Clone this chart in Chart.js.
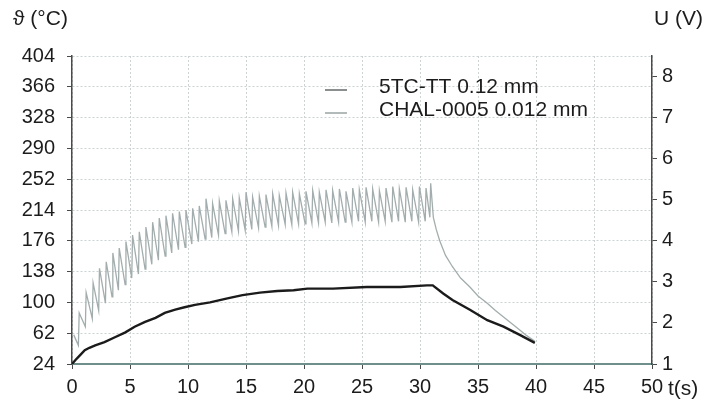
<!DOCTYPE html>
<html>
<head>
<meta charset="utf-8">
<script src="https://cdn.jsdelivr.net/npm/chart.js@4"></script>
<style>
  html, body { margin: 0; padding: 0; background: #ffffff; }
  #wrap { width: 704px; height: 407px; }
</style>
</head>
<body>
<div id="wrap"><canvas id="tempChart" width="704" height="407"></canvas></div>
<script>
// ─── DATA ────────────────────────────────────────────────────

const tempTicks = [24, 62, 100, 138, 176, 214, 252, 290, 328, 366, 404];
const timeTicks = [0, 5, 10, 15, 20, 25, 30, 35, 40, 45, 50];
const voltTicks = [1, 2, 3, 4, 5, 6, 7, 8];

const seriesLabels = ['5TC-TT 0.12 mm', 'CHAL-0005 0.012 mm'];

// 5TC-TT 0.12 mm (dark curve)
const tcTime = [0, 0.3, 0.7, 1.1, 1.5, 2.0, 2.8, 3.7, 4.6, 5.4, 6.3, 7.2, 8.0, 8.9, 9.7, 10.6,
    11.9, 13.4, 14.7, 16.2, 17.7, 19.1, 20.3, 22.5, 25.4, 28.3, 30.6, 31.1, 32.0, 32.8, 34.3,
    35.8, 37.2, 38.6, 39.9];
const tcTemp = [24, 29, 35, 41, 44, 47, 51, 57, 63, 70, 76, 81, 87, 91, 94, 97,
    100, 105, 109, 112, 114, 115, 117, 117, 119, 119, 121, 121, 111, 103, 91,
    78, 70, 60, 50];

// CHAL-0005 0.012 mm (light, pulsing curve): trough / peak pairs, then cooling
const chalTime = [0.15, 0.3, 0.55, 0.62, 1.15, 1.22, 1.75, 1.82, 2.3, 2.37, 2.88, 2.95, 3.45, 3.52,
    4.0, 4.07, 4.58, 4.65, 5.15, 5.22, 5.73, 5.8, 6.3, 6.37, 6.88, 6.95, 7.45, 7.52, 8.03, 8.1,
    8.6, 8.67, 9.18, 9.25, 9.75, 9.82, 10.33, 10.4, 10.9, 10.97, 11.48, 11.55, 12.05, 12.12,
    12.63, 12.7, 13.2, 13.27, 13.78, 13.85, 14.35, 14.42, 14.93, 15.0, 15.5, 15.57, 16.08, 16.15,
    16.65, 16.72, 17.23, 17.3, 17.8, 17.87, 18.38, 18.45, 18.95, 19.02, 19.53, 19.6, 20.1, 20.17,
    20.68, 20.75, 21.25, 21.32, 21.83, 21.9, 22.4, 22.47, 22.98, 23.05, 23.55, 23.62, 24.13, 24.2,
    24.7, 24.77, 25.28, 25.35, 25.85, 25.92, 26.43, 26.5, 27.0, 27.07, 27.58, 27.65, 28.15, 28.22,
    28.73, 28.8, 29.3, 29.37, 29.88, 29.95, 30.45, 30.52, 30.85, 30.92, 31.15, 31.4, 31.7, 32.2,
    32.8, 33.5, 34.3, 35.0, 35.8, 36.5, 37.2, 37.9, 38.6, 39.2, 39.6, 39.9];
const chalTemp = [60, 55, 47, 87, 70, 112, 80, 124, 90, 142, 99, 150, 107, 161,
    115, 167, 122, 175, 130, 183, 135, 187, 141, 193, 147, 199, 152, 204, 157, 207,
    161, 210, 165, 212, 168, 214, 172, 216, 175, 219, 178, 228, 180, 222,
    183, 225, 185, 226, 187, 228, 188, 229, 189, 236, 190, 230, 192, 231,
    193, 233, 194, 234, 195, 232, 196, 235, 196, 236, 197, 234, 197, 237,
    198, 238, 198, 236, 199, 239, 198, 238, 199, 240, 199, 237, 199, 241,
    200, 239, 199, 242, 200, 240, 199, 238, 200, 241, 199, 243, 200, 240,
    199, 242, 200, 239, 199, 243, 200, 241, 205, 247, 205, 190, 176, 158,
    144, 130, 119, 108, 99, 90, 82, 74, 66, 59, 55, 52];


// ─── LOOK ────────────────────────────────────────────────────

const FONT = "'Liberation Sans', Arial, sans-serif";
const TEXT = '#1c1c1c';
const AXIS = '#4a4a4a';
const GRID = '#cdd2d2';
const TC_COLOR = '#1b1b1b';
const CHAL_COLOR = '#a3adad';

function toPoints(xs, ys) {
    return xs.map((x, i) => ({ x, y: ys[i] }));
}

/**
 * Draws the axis titles, the "t(s)" unit and the legend block
 * inside the plot, like the original figure.
 */
const decorations = {
    id: 'decorations',
    afterDraw(chart) {
        const ctx = chart.ctx;
        const area = chart.chartArea;
        const xs = chart.scales.x;
        ctx.save();
        ctx.fillStyle = TEXT;
        ctx.font = '21px ' + FONT;
        ctx.textBaseline = 'middle';
        ctx.textAlign = 'left';
        ctx.fillText('\u03D1 (\u00B0C)', 13, 19);
        ctx.fillText('U (V)', area.right + 2, 19);
        ctx.fillText('t(s)', xs.getPixelForValue(50) + 16, 389);

        // legend
        const swatch = ['#8c8f8f', '#b3baba'];
        ctx.font = '21px ' + FONT;
        seriesLabels.forEach((label, i) => {
            const y = 87 + i * 23;
            ctx.strokeStyle = swatch[i];
            ctx.lineWidth = 2;
            ctx.beginPath();
            ctx.moveTo(325, y + 3);
            ctx.lineTo(347, y + 3);
            ctx.stroke();
            ctx.fillStyle = TEXT;
            ctx.fillText(label, 379, y);
        });
        ctx.restore();
    }
};

new Chart(document.getElementById('tempChart'), {
    type: 'line',
    data: {
        datasets: [{
            label: seriesLabels[0],
            data: toPoints(tcTime, tcTemp),
            borderColor: TC_COLOR,
            borderWidth: 2.4,
            pointRadius: 0,
            tension: 0,
            yAxisID: 'y'
        }, {
            label: seriesLabels[1],
            data: toPoints(chalTime, chalTemp),
            borderColor: CHAL_COLOR,
            borderWidth: 1.3,
            pointRadius: 0,
            tension: 0,
            yAxisID: 'y'
        }]
    },
    options: {
        responsive: false,
        animation: false,
        events: [],
        layout: { padding: { top: 56, left: 0, right: 0, bottom: 0 } },
        plugins: {
            legend: { display: false },
            tooltip: { enabled: false }
        },
        scales: {
            x: {
                type: 'linear',
                min: 0,
                max: 50,
                afterBuildTicks: s => { s.ticks = timeTicks.map(v => ({ value: v })); },
                afterFit: s => { s.height = 43; },
                ticks: { color: TEXT, font: { family: FONT, size: 20 }, padding: 6, maxRotation: 0 },
                grid: { color: GRID, tickColor: AXIS, tickLength: 5 },
                border: { color: '#6f8f8c', width: 2, dash: [2, 2] }
            },
            y: {
                type: 'linear',
                position: 'left',
                min: 24,
                max: 404,
                afterBuildTicks: s => { s.ticks = tempTicks.map(v => ({ value: v })); },
                afterFit: s => { s.width = 72; },
                ticks: { color: TEXT, font: { family: FONT, size: 20 }, padding: 12 },
                grid: { color: GRID, tickColor: AXIS, tickLength: 5 },
                border: { color: AXIS, width: 1.5, dash: [2, 2] }
            },
            y2: {
                type: 'linear',
                position: 'right',
                min: 1,
                max: 8.5,
                afterBuildTicks: s => {
                    const t = [];
                    for (let v = 1; v <= 8.5; v += 0.5) t.push({ value: v });
                    s.ticks = t;
                },
                afterFit: s => { s.width = 52; },
                ticks: {
                    color: TEXT,
                    font: { family: FONT, size: 20 },
                    padding: 5,
                    callback: v => (voltTicks.includes(v) ? String(v) : '')
                },
                grid: { drawOnChartArea: false, tickColor: AXIS, tickLength: 5 },
                border: { color: AXIS, width: 1.5 }
            }
        }
    },
    plugins: [decorations]
});
</script>
</body>
</html>
